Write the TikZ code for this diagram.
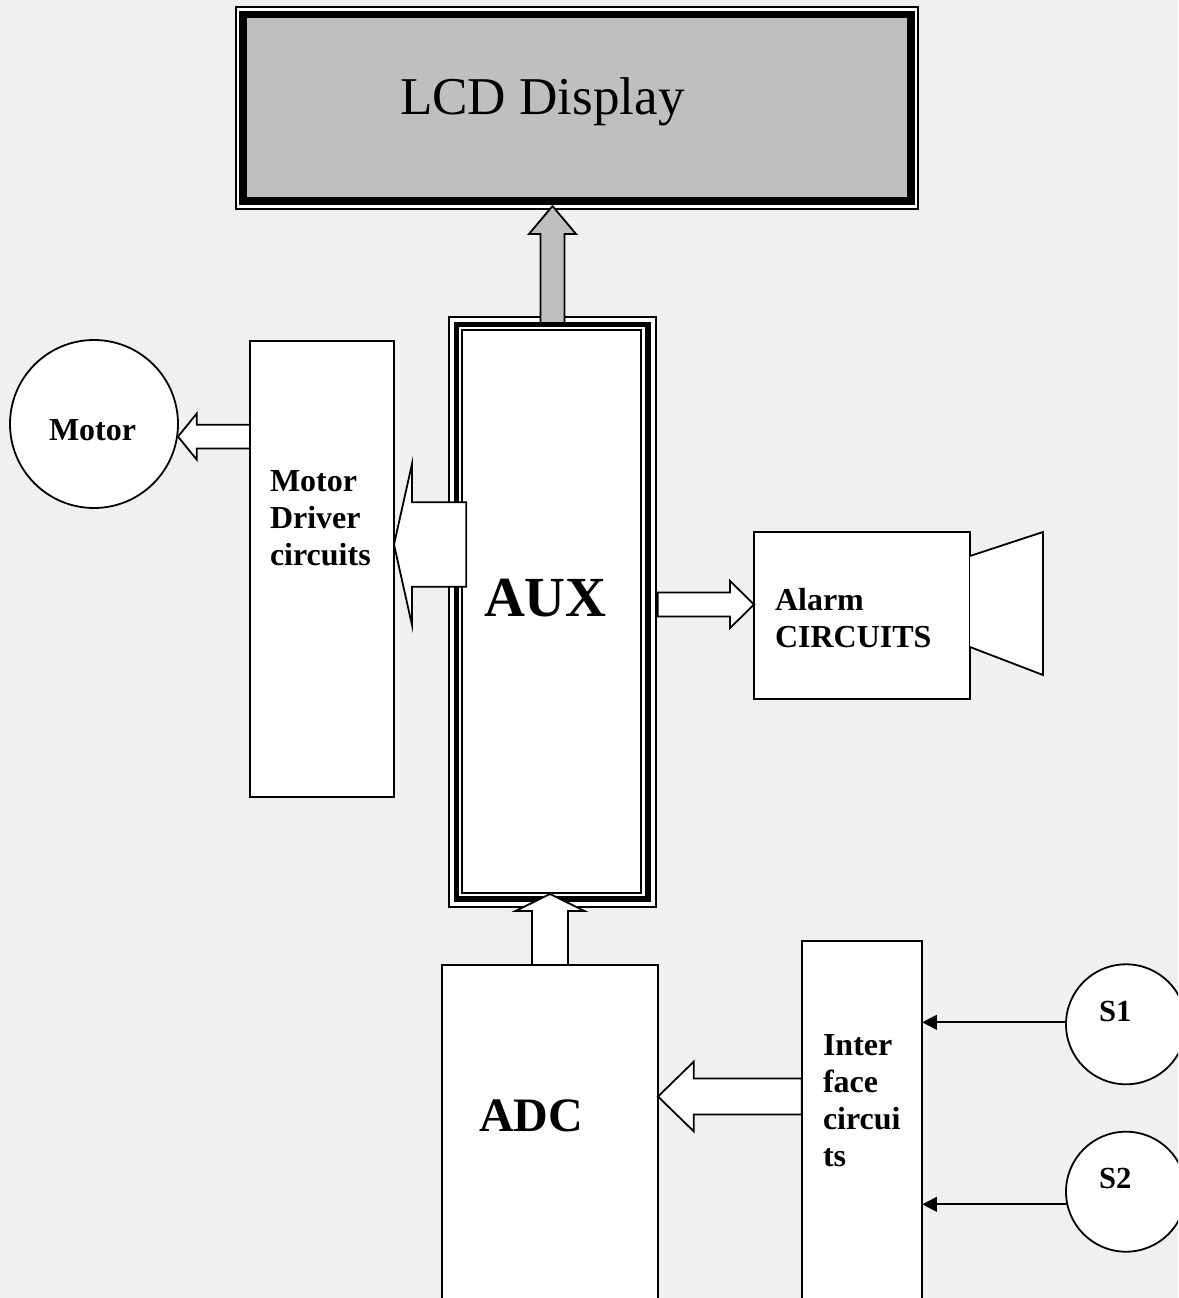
\documentclass[tikz,border=0pt]{standalone}
\usepackage{fontspec}
\setmainfont{Liberation Serif}
\usetikzlibrary{calc,arrows.meta}
\definecolor{pagebg}{HTML}{F0F0F0}
\definecolor{lcdgray}{HTML}{BFBFBF}
% px = 0.75pt
\tikzset{
  box/.style={draw=black,line width=1.35pt,fill=white,inner sep=0pt,outer sep=0pt,rectangle},
  round box/.style={draw=black,line width=1.35pt,fill=white,inner sep=0pt,outer sep=0pt,circle},
  block/.style={draw=black,line width=1.35pt,fill=white,line join=miter,miter limit=20},
  thinarrow/.style={draw=black,line width=1.5pt,-{Triangle[length=11pt,width=11pt]}},
  lbl/.style={inner sep=0pt,outer sep=0pt,anchor=base west,align=left,font=\bfseries\fontsize{24}{27.75}\selectfont}
}
% tail, tip, shaft half-width, head half-width, head length (px)
\newcommand{\blockarrow}[6][]{%
  \draw[block,#1]
    (#3)
    -- ($(#3)!#6*0.75pt!(#2)!#5*0.75pt!90:(#2)$)
    -- ($(#3)!#6*0.75pt!(#2)!#4*0.75pt!90:(#2)$)
    -- ($(#2)!#4*0.75pt!-90:(#3)$)
    -- ($(#2)!#4*0.75pt!90:(#3)$)
    -- ($(#3)!#6*0.75pt!(#2)!#4*0.75pt!-90:(#2)$)
    -- ($(#3)!#6*0.75pt!(#2)!#5*0.75pt!-90:(#2)$)
    -- cycle;}
\begin{document}
\begin{tikzpicture}[x=0.75pt,y=-0.75pt]
\useasboundingbox (0,0) rectangle (1178,1298);
\clip (0,0) rectangle (1178,1298);
\fill[pagebg] (0,0) rectangle (1178,1298);

% LCD
\node[box,line width=1.2pt,minimum width=511.5pt,minimum height=151.5pt] (lcdouter) at (577,108) {};
\node[box,line width=5.6pt,fill=lcdgray,minimum width=501pt,minimum height=140pt] (lcd) at (577,107.7) {};
\node[lbl,font=\fontsize{39.85}{44}\selectfont] (lcdtext) at (400,115) {LCD Display};

% AUX
\node[box,line width=1.3pt,minimum width=155pt,minimum height=442.5pt] (auxouter) at (552.3,611.7) {};
\node[box,line width=4pt,minimum width=143.5pt,minimum height=431pt] (auxmid) at (552.3,611.7) {};
\node[box,line width=1.3pt,minimum width=134.3pt,minimum height=422.3pt] (aux) at (551.6,611.5) {};
\node[lbl,font=\bfseries\fontsize{42.5}{46}\selectfont] (auxtext) at (484,616.5) {AUX};

% Motor
\node[round box,minimum size=126pt] (motor) at (94,424) {};
\node[lbl] (motortext) at (49,440) {Motor};
\node[box,minimum width=108pt,minimum height=342pt] (driver) at (322,569) {};
\node[lbl] (drivertext) at (270,565) {Motor\\Driver\\circuits};

% Alarm
\node[box,minimum width=162pt,minimum height=125.25pt] (alarm) at (862,615.5) {};
\node[lbl] (alarmtext) at (775,647) {Alarm\\CIRCUITS};
\draw[box] (alarm.east |- 0,556) -- (1043,532) -- (1043,675) -- (alarm.east |- 0,647);

% ADC / interface
\node[box,minimum width=162pt,minimum height=270pt] (adc) at (550,1145) {};
\node[lbl,font=\bfseries\fontsize{36}{40}\selectfont] (adctext) at (479,1131) {ADC};
\node[box,minimum width=90.3pt,minimum height=270pt] (iface) at (862,1121) {};
\node[lbl] (ifacetext) at (823,1166) {Inter\\face\\circui\\ts};

% Sensors
\node[round box,minimum size=90pt] (s1) at (1126,1024.3) {};
\node[lbl,font=\bfseries\fontsize{23}{26}\selectfont] (s1text) at (1099,1021) {S1};
\node[round box,minimum size=90pt] (s2) at (1126,1191.7) {};
\node[lbl,font=\bfseries\fontsize{23}{26}\selectfont] (s2text) at (1099,1188) {S2};

% connector ends
\coordinate (lcdin) at (552.5,206);
\coordinate (auxtop) at (552.5,323);
\coordinate (drvin) at (394,544.5);
\coordinate (auxleft) at (466.3,544.5);
\coordinate (auxright) at (657.7,604.5);
\coordinate (alarmin) at (alarm.west |- auxright);
\coordinate (motorin) at (178,436.6);
\coordinate (drvout) at (driver.west |- motorin);
\coordinate (auxbot) at (550,894);
\coordinate (adcout) at (adc.north -| auxbot);
\coordinate (adcin) at (adc.east |- 0,1096.5);
\coordinate (ifout) at (iface.west |- adcin);

% block arrows: tail, tip, shaft half, head half, head length
\blockarrow[fill=lcdgray]{auxtop}{lcdin}{12}{23.5}{28}
\blockarrow{auxleft}{drvin}{42.2}{80.5}{18}
\blockarrow{auxright}{alarmin}{12}{23.6}{24}
\blockarrow{drvout}{motorin}{11.8}{23}{18.7}
\blockarrow{adcout}{auxbot}{18}{34.5}{17}
\blockarrow{ifout}{adcin}{18}{34.8}{35.7}

% sensor connectors
\draw[thinarrow] (s1.west |- 0,1022.3) -- (iface.east |- 0,1022.3);
\draw[thinarrow] ($(s2.center)+(-58.8,12.6)$) -- (iface.east |- 0,1204.3);
\end{tikzpicture}
\end{document}
